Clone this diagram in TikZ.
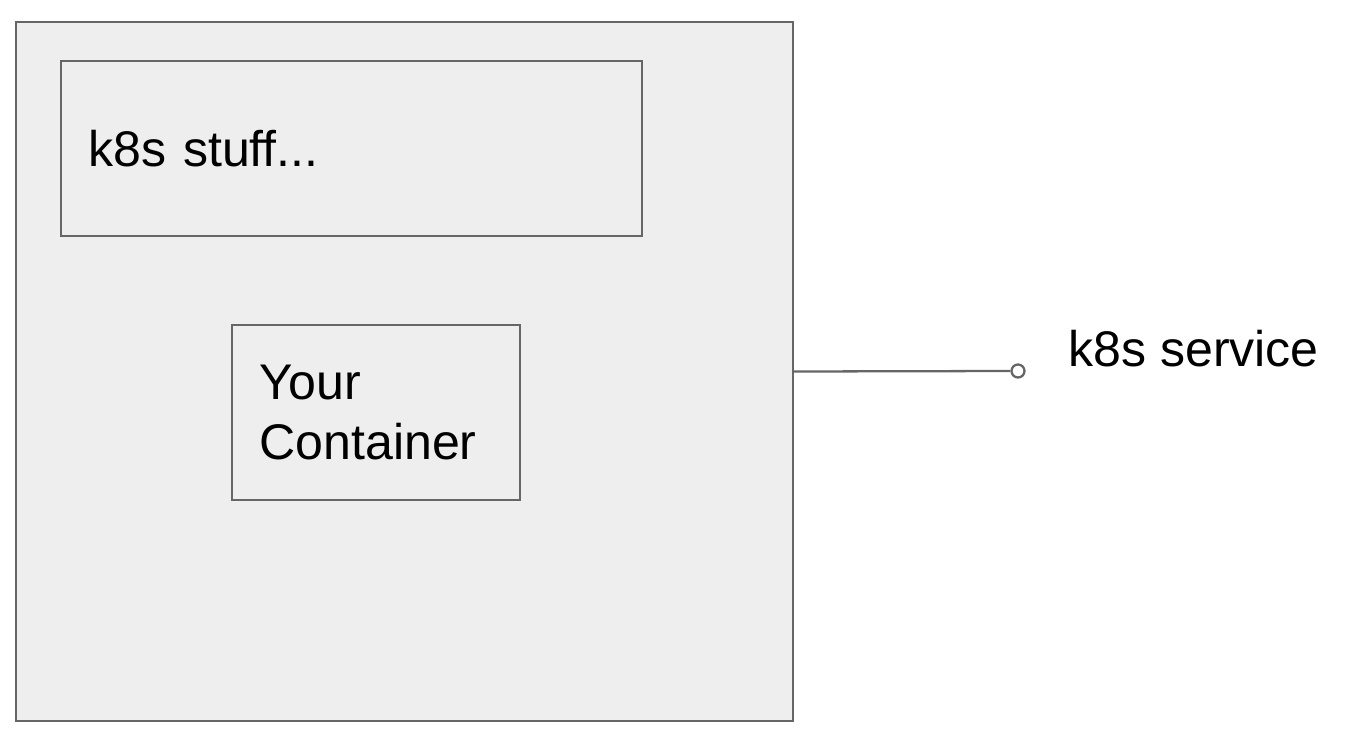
\documentclass[tikz,border=0pt]{standalone}
\usepackage{fontspec}
\setmainfont[Ligatures=NoCommon]{Liberation Sans}
\usetikzlibrary{positioning}
\definecolor{edge}{HTML}{666666}
\definecolor{podfill}{HTML}{EEEEEE}

\begin{document}
\begin{tikzpicture}[box/.style={draw=edge,line width=1.3pt,fill=podfill,inner xsep=0.55cm,align=left},
                    txt/.style={font=\fontsize{28.5}{34}\selectfont}
                    ]
    \useasboundingbox (0,0) rectangle (27.08,14.88);
    \node[box,minimum width=15.54cm,minimum height=13.98cm] at (8.09,7.45) (pod) {};
    \node[box,txt,minimum width=11.62cm,minimum height=3.5cm,text width=10.52cm] at (7.03,11.91) (stuff) {k8s stuff...};
    \node[box,txt,minimum width=5.76cm,minimum height=3.5cm,text width=4.66cm] at (7.52,6.63) (cont) {Your\\Container};
    \node[circle,draw=edge,line width=1.3pt,fill=white,inner sep=0pt,minimum size=0.26cm] at (20.36,7.46) (port) {};
    \node[txt,anchor=base west,inner sep=0pt] at (21.36,7.56) (svc) {k8s service};
    \draw[edge,line width=1.3pt] (pod.east) -- (port.west);
\end{tikzpicture}
\end{document}
